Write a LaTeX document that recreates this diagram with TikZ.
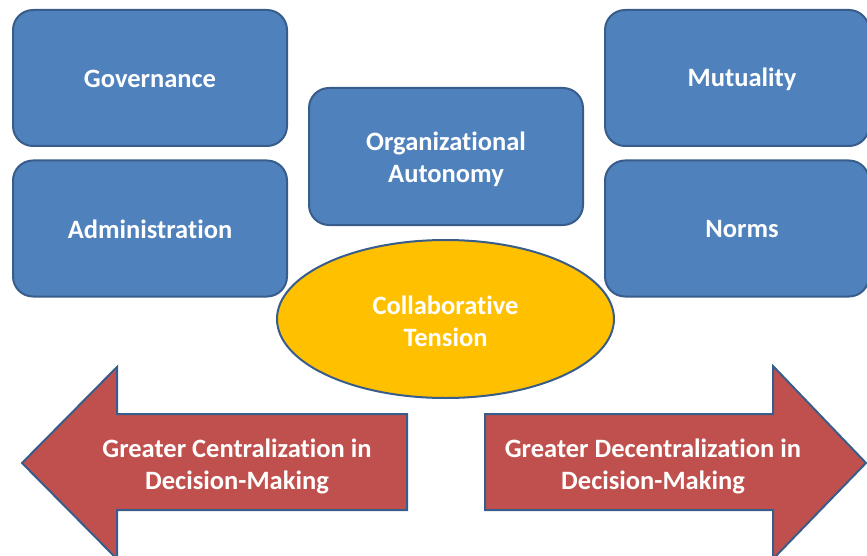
\documentclass[tikz,border=0pt]{standalone}
\usepackage{fontspec}
\setmainfont{Carlito}[Ligatures=NoCommon]
\usetikzlibrary{shapes.geometric}
\definecolor{boxblue}{HTML}{4F81BD}
\definecolor{edgeblue}{HTML}{385D8A}
\definecolor{tensionyellow}{HTML}{FFC000}
\definecolor{arrowred}{HTML}{C0504D}
\tikzset{
  bigfont/.style={text=white, font=\fontsize{26.5}{32}\selectfont\bfseries},
  bluebox/.style={draw=edgeblue, fill=boxblue, line width=2pt, rounded corners=20pt,
    minimum width=#1, minimum height=136pt, inner sep=0pt, bigfont, align=center},
  bluebox/.default=274pt,
  oneline/.style={text height=21pt, text depth=1pt},
  tensionellipse/.style={draw=edgeblue, fill=tensionyellow, line width=2pt, ellipse,
    minimum width=337pt, minimum height=158pt, inner sep=0pt, bigfont, align=center},
  bigarrow/.style={draw=edgeblue, fill=arrowred, line width=2pt, line join=miter},
  boxlabel/.style={bigfont, inner sep=0pt, anchor=base},
  arrowtext/.style={bigfont, align=center, inner sep=0pt}
}
\begin{document}
\begin{tikzpicture}[x=1pt,y=-1pt]
\useasboundingbox (0,0) rectangle (867,556);
\node[bluebox, oneline] (gov) at (150,78) {Governance};
\node[bluebox, oneline] (adm) at (150,228.5) {Administration};
\node[bluebox=264pt] (mut) at (737,78) {};
\node[boxlabel] (mutt) at (742,87) {Mutuality};
\node[bluebox=264pt] (nor) at (737,228.5) {};
\node[boxlabel] (nort) at (742,237) {Norms};
\node[bluebox, minimum height=137pt] (org) at (446,156.5) {};
\node[arrowtext] (orgt) at (446,159) {Organizational\\Autonomy};
\node[tensionellipse] (ten) at (445.5,319) {};
\node[arrowtext] (tent) at (445.5,321) {Collaborative\\Tension};
\draw[bigarrow] (22,463) -- (117,367) -- (117,414) -- (407,414) -- (407,510) -- (117,510) -- (117,559) -- cycle;
\draw[bigarrow] (866,463) -- (773,366) -- (773,414) -- (485,414) -- (485,510) -- (773,510) -- (773,559) -- cycle;
\node[arrowtext] (cen) at (237,466) {Greater Centralization in\\Decision-Making};
\node[arrowtext] (dec) at (653,466) {Greater Decentralization in\\Decision-Making};
\end{tikzpicture}
\end{document}
